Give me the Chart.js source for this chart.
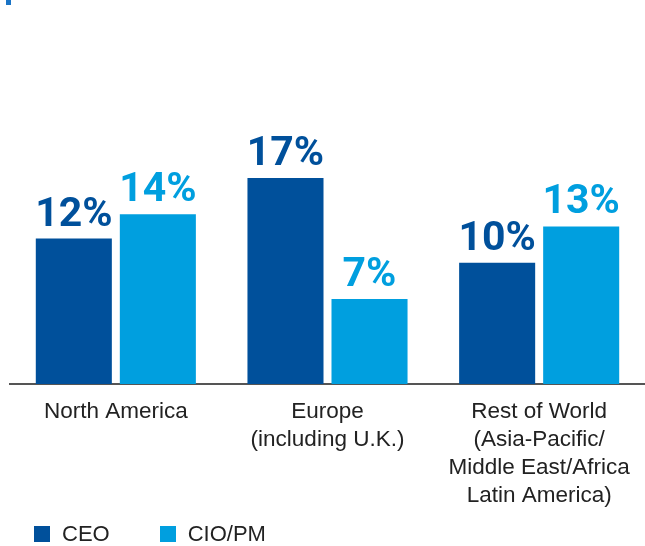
<!DOCTYPE html>
<html>
<head>
<meta charset="utf-8">
<script src="https://cdn.jsdelivr.net/npm/chart.js@4.4.0/dist/chart.umd.min.js"></script>
<style>
    body{margin:0;background:#fff;}
    .wrap{position:relative;width:645px;height:546px;overflow:hidden;}
    .corner{position:absolute;left:6px;top:0;width:5px;height:5px;background:#1a74c6;}
    .legend{position:absolute;left:34px;top:521px;display:flex;align-items:center;
        font-family:"Liberation Sans",Arial,sans-serif;font-size:22px;color:#222;}
    .legend .item{display:flex;align-items:center;margin-right:50px;}
    .legend .box{width:16px;height:16px;margin-right:12px;}
</style>
</head>
<body>
<div class="wrap">
    <canvas id="chart" width="645" height="546"></canvas>
    <div class="corner"></div>
    <div class="legend"></div>
</div>
<script>
const regions = [
    ["North America"],
    ["Europe","(including U.K.)"],
    ["Rest of World","(Asia-Pacific/","Middle East/Africa","Latin America)"]
]
const ceoValues = [12, 17, 10]
const cioValues = [14, 7, 13]
const seriesNames = ["CEO", "CIO/PM"]
const seriesColors = ["#00509b", "#009fdf"]

//Value labels above the bars
const valueLabels = {
    id: "valueLabels",
    afterDatasetsDraw(chart){
        const ctx = chart.ctx
        ctx.save()
        ctx.font = "bold 41px Roboto"
        ctx.textAlign = "center"
        ctx.textBaseline = "alphabetic"
        chart.data.datasets.forEach(function(ds, i){
            ctx.fillStyle = ds.backgroundColor
            chart.getDatasetMeta(i).data.forEach(function(bar, j){
                ctx.fillText(ds.data[j] + "%", bar.x, bar.y - 13)
            })
        })
        ctx.restore()
    }
}

let ctx = document.getElementById("chart").getContext("2d")
let myChart = new Chart(ctx, {
    type: "bar",
    data: {
        labels: regions,
        datasets: [{
            label: seriesNames[0],
            data: ceoValues,
            backgroundColor: seriesColors[0]
        },{
            label: seriesNames[1],
            data: cioValues,
            backgroundColor: seriesColors[1]
        }]
    },
    options: {
        responsive: false,
        animation: false,
        layout: {padding: {top: 81, left: 10, right: 0, bottom: 22}},
        datasets: {bar: {categoryPercentage: 0.794, barPercentage: 0.905}},
        plugins: {legend: {display: false}, tooltip: {enabled: false}},
        scales: {
            x: {
                grid: {display: false, drawTicks: false},
                border: {display: true, color: "#555", width: 2},
                ticks: {
                    padding: 14,
                    color: "#222",
                    font: {family: "Liberation Sans", size: 22.5, lineHeight: 1.245}
                }
            },
            y: {display: false, min: 0, max: 25}
        }
    },
    plugins: [valueLabels]
})

//Legend
const legend = document.querySelector(".legend")
myChart.data.datasets.forEach(function(ds){
    const item = document.createElement("div")
    item.setAttribute("class", "item")
    item.innerHTML = `<span class="box" style="background:${ds.backgroundColor}"></span><span>${ds.label}</span>`
    legend.appendChild(item)
})
</script>
</body>
</html>
